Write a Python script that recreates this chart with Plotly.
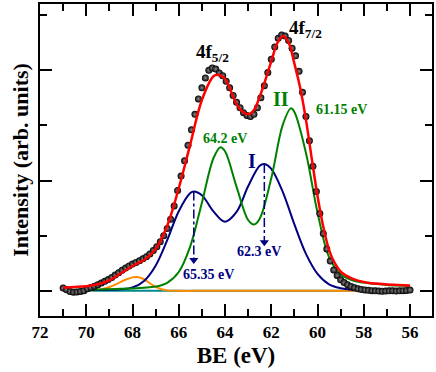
import plotly.graph_objects as go

# Messpunkte (BE in eV, Intensität in willk. Einheiten)
data_x = [round(71.0 - 0.15 * i, 2) for i in range(101)]
data_y = [0.025, 0.010, -0.005, -0.012, -0.010, -0.005, 0.002, 0.020, 0.030, 0.042,
          0.055, 0.070, 0.086, 0.103, 0.122, 0.143, 0.165, 0.187, 0.207, 0.226,
          0.243, 0.258, 0.273, 0.290, 0.310, 0.335, 0.365, 0.400, 0.445, 0.500,
          0.565, 0.650, 0.770, 0.910, 1.040, 1.180, 1.320, 1.460, 1.600, 1.740,
          1.840, 1.930, 2.000, 2.020, 2.010, 1.975, 1.950, 1.900, 1.840, 1.770,
          1.710, 1.660, 1.615, 1.590, 1.580, 1.600, 1.660, 1.750, 1.860, 1.980,
          2.100, 2.210, 2.290, 2.320, 2.310, 2.270, 2.200, 2.130, 1.990, 1.800,
          1.580, 1.360, 1.130, 0.900, 0.700, 0.520, 0.380, 0.270, 0.190, 0.140,
          0.100, 0.075, 0.055, 0.040, 0.028, 0.018, 0.012, 0.008, 0.005, 0.002,
          0.000, -0.002, -0.003, -0.002, 0.000, 0.000, -0.002, 0.000, 0.002, 0.004,
          0.008]

# Einhüllende (Fit)
fit_x = [71, 70.5, 70, 69.5, 69, 68.5, 68, 67.5, 67, 66.5, 66, 65.5, 65, 64.5, 64.3,
         64, 63.5, 63.25, 63, 62.75, 62.5, 62, 61.75, 61.5, 61.25, 61, 60.75, 60.5,
         60.25, 60, 59.75, 59.5, 59.25, 59, 58.5, 58, 57.5, 57, 56.5, 56]
fit_y = [0.030, 0.035, 0.042, 0.060, 0.095, 0.160, 0.225, 0.280, 0.380, 0.590, 0.930,
         1.330, 1.730, 1.945, 1.958, 1.920, 1.690, 1.625, 1.600, 1.640, 1.760, 2.080,
         2.240, 2.310, 2.250, 2.060, 1.840, 1.550, 1.200, 0.860, 0.580, 0.370, 0.250,
         0.175, 0.110, 0.080, 0.066, 0.058, 0.052, 0.048]

# Komponente I (blau)
comp1_x = [71, 70.5, 70, 69.5, 69, 68.5, 68, 67.5, 67, 66.5, 66, 65.5, 65.35, 65, 64.5,
           64, 63.5, 63, 62.5, 62.3, 62, 61.5, 61, 60.5, 60, 59.5, 59, 58.5, 58, 57.5,
           57, 56.5, 56]
comp1_y = [0.005, 0.006, 0.007, 0.008, 0.010, 0.014, 0.030, 0.090, 0.228, 0.459, 0.722,
           0.887, 0.901, 0.867, 0.721, 0.627, 0.716, 0.948, 1.133, 1.149, 1.105, 0.895,
           0.602, 0.335, 0.154, 0.059, 0.024, 0.010, 0.007, 0.006, 0.005, 0.005, 0.005]

# Komponente II (grün)
comp2_x = [71, 70.5, 70, 69.5, 69, 68.5, 68, 67.5, 67, 66.5, 66, 65.5, 65, 64.5, 64.2,
           64, 63.5, 63, 62.75, 62.5, 62, 61.5, 61.15, 61, 60.5, 60, 59.5, 59, 58.5, 58,
           57.5, 57, 56.5, 56]
comp2_y = [0.008, 0.009, 0.011, 0.012, 0.015, 0.018, 0.022, 0.028, 0.039, 0.073, 0.171,
           0.406, 0.799, 1.202, 1.302, 1.265, 0.942, 0.642, 0.601, 0.654, 1.020, 1.507,
           1.654, 1.621, 1.250, 0.710, 0.305, 0.150, 0.095, 0.075, 0.062, 0.054, 0.048,
           0.043]

# Kleiner Peak (orange)
comp3_x = [71, 70.5, 70, 69.5, 69.25, 69, 68.75, 68.5, 68.25, 68, 67.8, 67.5, 67.25, 67,
           66.75, 66.5, 66, 65, 63, 60, 58, 56]
comp3_y = [0, 0.0002, 0.0017, 0.0097, 0.0195, 0.035, 0.0565, 0.0815, 0.105, 0.122, 0.126,
           0.105, 0.0688, 0.035, 0.0139, 0.0043, 0.0002, 0, 0, 0, 0, 0]

# Untergrund
bg_x = [71, 56]
bg_y = [0, 0]

# Pfeile (Peaklagen I)
arrow_x = [65.35, 62.3]
arrow_top = [0.90, 1.15]
arrow_tip = [0.28, 0.44]

# Achsenbeschriftung
x_ticks = [72, 70, 68, 66, 64, 62, 60, 58, 56]

fig = go.Figure()

fig.add_trace(go.Scatter(x=bg_x, y=bg_y, mode='lines',
                         line=dict(color='#008b8b', width=2)))
fig.add_trace(go.Scatter(x=comp3_x, y=comp3_y, mode='lines', line_shape='spline',
                         line=dict(color='#ff8c00', width=2)))
fig.add_trace(go.Scatter(x=comp1_x, y=comp1_y, mode='lines', line_shape='spline',
                         line=dict(color='#000080', width=2)))
fig.add_trace(go.Scatter(x=comp2_x, y=comp2_y, mode='lines', line_shape='spline',
                         line=dict(color='#008000', width=2)))
fig.add_trace(go.Scatter(x=data_x, y=data_y, mode='markers',
                         marker=dict(size=7, color='black',
                                     gradient=dict(type='radial', color='#8c8c8c'),
                                     line=dict(width=0))))
fig.add_trace(go.Scatter(x=fit_x, y=fit_y, mode='lines', line_shape='spline',
                         line=dict(color='#ff0000', width=2.5)))

for ax, top, tip in zip(arrow_x, arrow_top, arrow_tip):
    fig.add_trace(go.Scatter(x=[ax, ax], y=[top, tip], mode='lines',
                             line=dict(color='#000080', width=1.5, dash='dashdot')))
    fig.add_trace(go.Scatter(x=[ax], y=[tip], mode='markers',
                             marker=dict(symbol='triangle-down', size=8, color='#000080')))

labels = [
    (64.55, 2.16, '4f<sub>5/2</sub>', 'black', 19),
    (60.5, 2.37, '4f<sub>7/2</sub>', 'black', 19),
    (61.6, 1.74, 'II', '#008000', 20),
    (58.95, 1.64, '61.15 eV', '#008000', 14),
    (64.0, 1.38, '64.2 eV', '#008000', 14),
    (62.85, 1.18, 'I', '#000080', 20),
    (62.55, 0.36, '62.3 eV', '#000080', 14),
    (64.7, 0.15, '65.35 eV', '#000080', 14),
]
for lx, ly, txt, col, sz in labels:
    fig.add_annotation(x=lx, y=ly, text='<b>' + txt + '</b>', showarrow=False,
                       font=dict(family='Liberation Serif', size=sz, color=col,
                                 weight='bold'))

fig.update_layout(
    width=436, height=372,
    margin=dict(l=40, r=2, t=2, b=56),
    plot_bgcolor='white', paper_bgcolor='white',
    showlegend=False,
    font=dict(family='Liberation Serif', color='black'),
)

fig.update_xaxes(
    range=[72, 55.05],
    tickvals=x_ticks, ticktext=['<b>%d</b>' % t for t in x_ticks],
    ticks='inside', ticklen=12, tickwidth=2, tickcolor='black',
    minor=dict(dtick=1, ticks='inside', ticklen=7, tickwidth=2, tickcolor='black'),
    showline=True, linewidth=2, linecolor='black', mirror='ticks',
    showgrid=False, zeroline=False,
    tickfont=dict(family='Liberation Serif', size=17, color='black', weight='bold'),
    title=dict(text='<b>BE (eV)</b>', font=dict(family='Liberation Serif', size=23),
               standoff=5),
)
fig.update_yaxes(
    range=[-0.228, 2.6], tick0=0, dtick=1, showticklabels=False,
    ticks='inside', ticklen=12, tickwidth=2, tickcolor='black',
    minor=dict(dtick=0.5, ticks='inside', ticklen=7, tickwidth=2, tickcolor='black'),
    showline=True, linewidth=2, linecolor='black', mirror='ticks',
    showgrid=False, zeroline=False,
    title=dict(text='<b>Intensity (arb. units)</b>',
               font=dict(family='Liberation Serif', size=22), standoff=3),
)

fig.write_html("out.html", config={'displayModeBar': False},
               post_script="document.body.style.margin='0px';")
